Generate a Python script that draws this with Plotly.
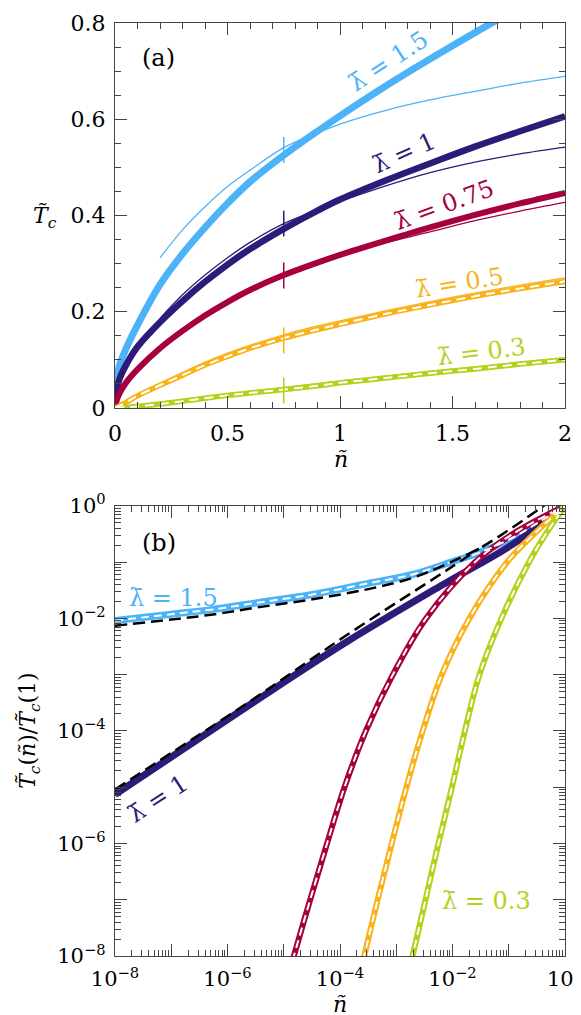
import plotly.graph_objects as go

# ---------------- colours ----------------
C_BLUE = "#4db3f8"
C_PURPLE = "#2e1a78"
C_RED = "#a6003f"
C_ORANGE = "#f9b21a"
C_LIME = "#b3d21b"
AX = "#444444"
FONT = "DejaVu Serif"

# ---------------- panel (a) data ----------------
a_blue_n = [0, 0.005, 0.02, 0.05, 0.1, 0.2, 0.3, 0.4, 0.5, 0.6, 0.75, 0.9, 1.0, 1.2, 1.4, 1.6, 1.75]
a_blue_T = [0, 0.05, 0.088, 0.124, 0.172, 0.256, 0.32, 0.375, 0.425, 0.47, 0.525, 0.575, 0.607, 0.668, 0.725, 0.78, 0.82]
a_blue_thin_n = [0.2, 0.3, 0.4, 0.5, 0.6, 0.75, 0.9, 1.0, 1.2, 1.4, 1.6, 1.8, 2.0]
a_blue_thin_T = [0.312, 0.37, 0.418, 0.46, 0.494, 0.541, 0.572, 0.59, 0.618, 0.64, 0.658, 0.675, 0.689]

a_purple_n = [0, 0.005, 0.02, 0.05, 0.1, 0.2, 0.3, 0.4, 0.5, 0.6, 0.75, 0.9, 1.0, 1.2, 1.4, 1.6, 1.8, 2.0]
a_purple_T = [0, 0.03, 0.06, 0.09, 0.127, 0.178, 0.222, 0.262, 0.298, 0.33, 0.372, 0.41, 0.433, 0.472, 0.508, 0.543, 0.575, 0.606]
a_purple_thin_n = [0.2, 0.3, 0.4, 0.5, 0.6, 0.75, 0.9, 1.0, 1.2, 1.4, 1.6, 1.8, 2.0]
a_purple_thin_T = [0.186, 0.235, 0.276, 0.312, 0.344, 0.383, 0.411, 0.429, 0.461, 0.489, 0.511, 0.528, 0.542]

a_red_n = [0, 0.005, 0.02, 0.05, 0.1, 0.2, 0.3, 0.4, 0.5, 0.6, 0.75, 0.9, 1.0, 1.2, 1.4, 1.6, 1.8, 2.0]
a_red_T = [0, 0.012, 0.03, 0.053, 0.08, 0.124, 0.16, 0.192, 0.22, 0.245, 0.276, 0.302, 0.318, 0.347, 0.375, 0.401, 0.425, 0.447]
a_red_thin_n = [0.2, 0.5, 0.75, 1.0, 1.2, 1.4, 1.6, 1.8, 2.0]
a_red_thin_T = [0.126, 0.224, 0.279, 0.318, 0.343, 0.366, 0.389, 0.409, 0.427]

a_orange_n = [0, 0.02, 0.05, 0.1, 0.2, 0.3, 0.4, 0.5, 0.6, 0.75, 0.9, 1.0, 1.2, 1.4, 1.6, 1.8, 2.0]
a_orange_T = [0, 0.004, 0.012, 0.025, 0.047, 0.068, 0.089, 0.107, 0.124, 0.145, 0.163, 0.174, 0.195, 0.214, 0.232, 0.248, 0.263]
a_orange_thin_n = [0.2, 0.4, 0.5, 0.75, 1.0, 1.4, 1.8, 2.0]
a_orange_thin_T = [0.051, 0.095, 0.114, 0.152, 0.181, 0.221, 0.255, 0.27]

a_lime_n = [0, 0.1, 0.2, 0.3, 0.4, 0.5, 0.6, 0.75, 0.9, 1.0, 1.2, 1.4, 1.6, 1.8, 2.0]
a_lime_T = [0, 0.003, 0.008, 0.014, 0.02, 0.026, 0.031, 0.038, 0.046, 0.052, 0.062, 0.072, 0.081, 0.091, 0.1]
a_lime_thin_n = [0.2, 0.5, 0.75, 1.0, 1.4, 2.0]
a_lime_thin_T = [0.011, 0.029, 0.042, 0.056, 0.076, 0.104]

marker_n = 0.75
marker_centres = [0.536, 0.383, 0.275, 0.14, 0.036]
marker_half = 0.027

# ---------------- panel (b) data (log10 values) ----------------
b_blue_logn = [-8, -7, -6.26, -5.5, -4.49, -3.5, -2.71, -2, -1.53, -0.94, -0.4, 0]
b_blue_logT = [-2.04, -1.925, -1.84, -1.726, -1.575, -1.377, -1.22, -0.99, -0.835, -0.57, -0.25, 0]
b_blue_approx_logn = [-8, -7, -6.26, -5.5, -4.49, -3.5, -2.71, -2.12, -1.53, -0.94, -0.38, 0]
b_blue_approx_logT = [-2.13, -2.02, -1.93, -1.81, -1.66, -1.48, -1.28, -1.04, -0.76, -0.39, 0.0, 0.27]

b_purple_logn = [-8, -5.55, -3.9, -2.12, -0.94, 0]
b_purple_logT = [-5.13, -3.5, -2.43, -1.37, -0.69, 0]
b_purple_approx_logn = [-8, -5.55, -3.9, -2.12, -1.53]
b_purple_approx_logT = [-5.04, -3.44, -2.31, -1.155, -0.76]

b_levels_logT = [-8.3, -8, -7, -6, -5, -4, -3, -2, -1, -0.5, 0]
b_red_logn = [-4.9, -4.82, -4.53, -4.23, -3.92, -3.54, -3.06, -2.47, -1.6, -0.93, 0]
b_orange_logn = [-3.64, -3.57, -3.33, -3.08, -2.82, -2.53, -2.19, -1.7, -1.03, -0.55, 0]
b_lime_logn = [-2.78, -2.71, -2.48, -2.25, -2.01, -1.78, -1.52, -1.13, -0.64, -0.34, 0]

fig = go.Figure()


def line(x, y, color, width, ax="a", dash=None, shape="spline", smoothing=1.0):
    xa, ya = ("x", "y") if ax == "a" else ("x2", "y2")
    fig.add_trace(go.Scatter(
        x=x, y=y, mode="lines", xaxis=xa, yaxis=ya, showlegend=False,
        hoverinfo="skip",
        line=dict(color=color, width=width, dash=dash, shape=shape, smoothing=smoothing)))


# panel (a)
line(a_blue_n, a_blue_T, C_BLUE, 7)
line(a_purple_n, a_purple_T, C_PURPLE, 6.5)
line(a_red_n, a_red_T, C_RED, 6)
line(a_orange_n, a_orange_T, C_ORANGE, 5.5)
line(a_lime_n, a_lime_T, C_LIME, 5.5)
line(a_blue_thin_n, a_blue_thin_T, C_BLUE, 1.3)
line(a_purple_thin_n, a_purple_thin_T, C_PURPLE, 1.3)
line(a_red_thin_n, a_red_thin_T, C_RED, 1.3)
line(a_orange_thin_n, a_orange_thin_T, C_ORANGE, 1.3)
line(a_lime_thin_n, a_lime_thin_T, C_LIME, 1.3)
line(a_orange_n, a_orange_T, "white", 2, dash="9px,6px")
line(a_lime_n, a_lime_T, "white", 2, dash="9px,6px")
for c, col in zip(marker_centres, [C_BLUE, C_PURPLE, C_RED, C_ORANGE, C_LIME]):
    line([marker_n, marker_n], [c - marker_half, c + marker_half], col, 1.5, shape="linear")


# panel (b)
def p(v):
    return [10 ** t for t in v]


line(p(b_blue_logn), p(b_blue_logT), C_BLUE, 7, "b")
line(p(b_purple_logn), p(b_purple_logT), C_PURPLE, 7, "b")
line(p(b_red_logn), p(b_levels_logT), C_RED, 6, "b")
line(p(b_orange_logn), p(b_levels_logT), C_ORANGE, 6, "b")
line(p(b_lime_logn), p(b_levels_logT), C_LIME, 6, "b")
for xs, ys in [(b_blue_logn, b_blue_logT), (b_red_logn, b_levels_logT),
               (b_orange_logn, b_levels_logT), (b_lime_logn, b_levels_logT)]:
    line(p(xs), p(ys), "white", 2, "b", dash="8px,5px")
line(p(b_purple_approx_logn), p(b_purple_approx_logT), "black", 2.5, "b", dash="12px,6px")
line(p(b_blue_approx_logn), p(b_blue_approx_logT), "black", 2.5, "b", dash="12px,6px")

# ---------------- layout ----------------
W, H = 581, 1015
ML, MR, MT, MB = 107, 23.5, 15, 1015 - 948.3
PW, PH = W - ML - MR, H - MT - MB


def xp(px):
    return (px - ML) / PW


def yp(py):
    return (H - MB - py) / PH


ydom_a = [yp(400), 1]
ydom_b = [0, yp(498)]

tickfont = dict(family=FONT, size=22, color="black")
common = dict(showgrid=False, zeroline=False, showline=True, linecolor=AX, linewidth=1.3,
              mirror="allticks", ticks="inside", ticklen=12, tickwidth=1.3, tickcolor=AX,
              automargin=False)

lin_minor_x = [i / 10 for i in range(1, 20) if i % 5]
lin_minor_y = [i * 0.05 for i in range(1, 16) if i % 4]
exps = list(range(-8, 1))
dec = [10.0 ** e for e in exps]
dec_text = [("10<sup>\u2212%d</sup>" % (-e) if e < 0 else "10<sup>0</sup>") if e % 2 == 0 else ""
            for e in exps]
log_minor = [k * 10.0 ** e for e in range(-8, 0) for k in range(2, 10)]
minor_style = dict(tickmode="array", ticks="inside", ticklen=6, tickwidth=1.2, tickcolor=AX)
logfont = dict(family=FONT, size=21, color="black")

fig.update_layout(
    width=W, height=H, margin=dict(l=ML, r=MR, t=MT, b=MB, autoexpand=False),
    paper_bgcolor="white", plot_bgcolor="white",
    xaxis=dict(domain=[0, 1], anchor="y", range=[0, 2], tickmode="array",
               tickvals=[0, 0.5, 1, 1.5, 2], ticktext=["0", "0.5", "1", "1.5", "2"],
               minor=dict(tickvals=lin_minor_x, **minor_style),
               ticklabelstandoff=6, tickfont=tickfont, **common),
    yaxis=dict(domain=ydom_a, anchor="x", range=[0, 0.8], tickmode="array",
               tickvals=[0, 0.2, 0.4, 0.6, 0.8], ticktext=["0", "0.2", "0.4", "0.6", "0.8"],
               minor=dict(tickvals=lin_minor_y, **minor_style),
               ticklabelstandoff=4, tickfont=tickfont, **common),
    xaxis2=dict(domain=[0, 1], anchor="y2", type="log", range=[-8, 0], tickmode="array",
                tickvals=dec, ticktext=dec_text,
                minor=dict(tickvals=log_minor, **minor_style),
                ticklabelstandoff=4, tickfont=logfont, **common),
    yaxis2=dict(domain=ydom_b, anchor="x2", type="log", range=[-8, 0], tickmode="array",
                tickvals=dec, ticktext=dec_text,
                minor=dict(tickvals=log_minor, **minor_style),
                ticklabelstandoff=4, tickfont=logfont, **common),
)

lam = "\u03bb\u0304"


def ann(text, x, y, color="black", angle=0, xref="x", yref="y", size=24):
    fig.add_annotation(text=text, x=x, y=y, xref=xref, yref=yref, showarrow=False,
                       textangle=angle, font=dict(family=FONT, size=size, color=color),
                       xanchor="center", yanchor="middle")


# panel (a) labels
ann("(a)", 0.195, 0.727)
ann(lam + " = 1.5", 1.217, 0.721, C_BLUE, -33)
ann(lam + " = 1", 1.285, 0.53, C_PURPLE, -24)
ann(lam + " = 0.75", 1.462, 0.422, C_RED, -20)
ann(lam + " = 0.5", 1.529, 0.26, C_ORANGE, -9)
ann(lam + " = 0.3", 1.627, 0.117, C_LIME, -7)

# panel (b) labels
ann("(b)", -7.21, -0.657, xref="x2", yref="y2")
ann(lam + " = 1.5", -6.96, -1.634, C_BLUE, 0, "x2", "y2")
ann(lam + " = 1", -7.24, -5.21, C_PURPLE, -33, "x2", "y2")
ann(lam + " = 0.3", -1.40, -7.03, C_LIME, 0, "x2", "y2")

# axis titles
ann("<i>T\u0303</i><sub><i>c</i></sub>", xp(37), yp(210), xref="paper", yref="paper", size=22)
ann("<i>\u00f1</i>", xp(333), yp(452), xref="paper", yref="paper", size=22)
ann("<i>\u00f1</i>", xp(332), yp(997), xref="paper", yref="paper", size=22)
ann("<i>T\u0303</i><sub><i>c</i></sub>(<i>\u00f1</i>)/<i>T\u0303</i><sub><i>c</i></sub>(1)",
    xp(22), yp(723), angle=-90, xref="paper", yref="paper", size=22)

fig.write_html("out.html")
